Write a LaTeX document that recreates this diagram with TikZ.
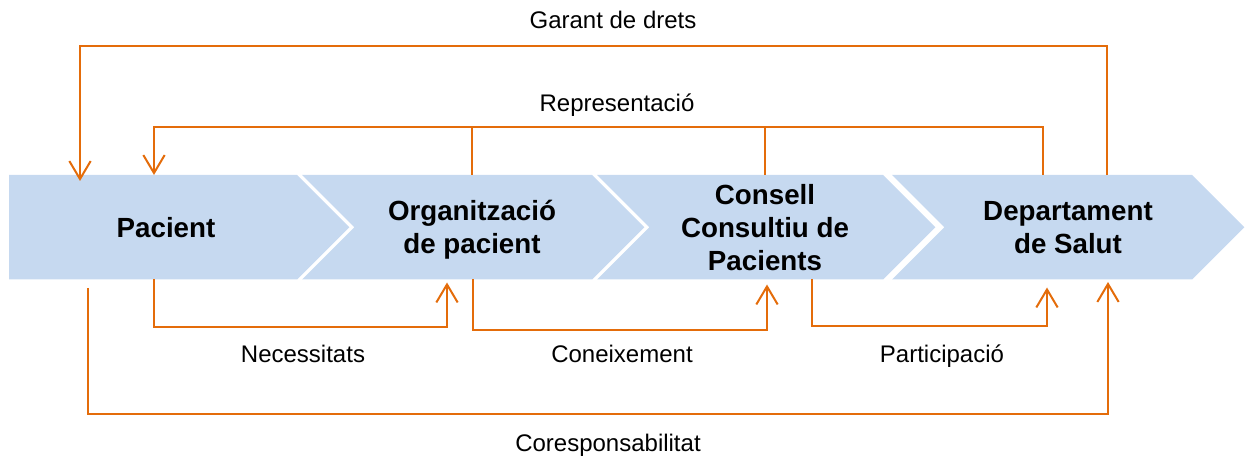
\documentclass[tikz,border=0pt]{standalone}
\usepackage{fontspec}
\setmainfont{Liberation Sans}
\usetikzlibrary{arrows.meta,calc}
\definecolor{chev}{RGB}{198,217,240}
\definecolor{orng}{RGB}{228,108,10}
\begin{document}
\begin{tikzpicture}[x=0.75pt,y=-0.75pt,
  body/.style={minimum height=78.375pt,inner sep=0pt,outer sep=0pt},
  chevfill/.style={fill=chev,draw=none},
  title/.style={font=\fontsize{20.8}{25}\selectfont\bfseries,align=center,anchor=base,inner sep=0pt},
  lbl/.style={font=\fontsize{18}{21.6}\selectfont,anchor=base,inner sep=0pt},
  conn/.style={draw=orng,line width=1.5pt},
  arr/.style={conn,-{Straight Barb[length=13.5pt,width=16pt]}}]
\useasboundingbox (0,0) rectangle (1247,456);
% shape bodies
\node[body,minimum width=216pt] (pac) at (153,227.25) {};
\node[body,minimum width=217.5pt] (org) at (447,227.25) {};
\node[body,minimum width=214.5pt] (ccp) at (740,227.25) {};
\node[body,minimum width=225pt] (dep) at (1042,227.25) {};
% chevrons
\fill[chevfill] (pac.north west) -- (pac.north east) -- ($(pac.east)+(52.25,0)$) -- (pac.south east) -- (pac.south west) -- cycle;
\foreach \s in {org,ccp,dep}{
  \fill[chevfill] (\s.north west) -- (\s.north east) -- ($(\s.east)+(52.25,0)$) -- (\s.south east) -- (\s.south west) -- ($(\s.west)+(52.25,0)$) -- cycle;
}
% titles (base anchor = baseline of last line)
\node[title] (tpac) at (166,238) {Pacient};
\node[title] (torg) at (472,254) {Organització\\de pacient};
\node[title] (tccp) at (765,271) {Consell\\Consultiu de\\Pacients};
\node[title] (tdep) at (1068,254) {Departament\\de Salut};
% connectors on top
\draw[arr] ($(dep.north)+(65,0)$) -- ++(0,-129) -| ($(pac.north)+(-73,6)$);
\draw[arr] ($(dep.north)+(1,0)$) -- ++(0,-47.5) -| ($(pac.north)+(1,0)$);
\draw[conn] ($(org.north)+(25,0)$) -- ++(0,-47.5);
\draw[conn] ($(ccp.north)+(25,0)$) -- ++(0,-47.5);
% connectors below
\draw[arr] ($(pac.south)+(1,0)$) -- ++(0,47) -| ($(org.south)+(0,3)$);
\draw[arr] ($(org.south)+(26,0)$) -- ++(0,50.5) -| ($(ccp.south)+(27,5)$);
\draw[arr] ($(ccp.south)+(72,0)$) -- ++(0,46.5) -| ($(dep.south)+(5,8)$);
\draw[arr] ($(pac.south)+(-65,8.5)$) -- ++(0,126) -| ($(dep.south)+(66,2.5)$);
% labels
\node[lbl] (lgar) at (613,29) {Garant de drets};
\node[lbl] (lrep) at (617,112) {Representació};
\node[lbl] (lnec) at (303,363) {Necessitats};
\node[lbl] (lcon) at (622,363) {Coneixement};
\node[lbl] (lpar) at (942,363) {Participació};
\node[lbl] (lcor) at (608,451) {Coresponsabilitat};
\end{tikzpicture}
\end{document}
